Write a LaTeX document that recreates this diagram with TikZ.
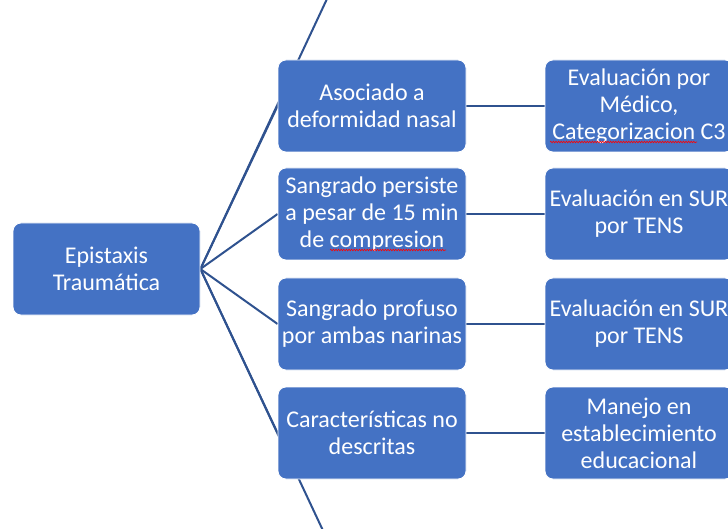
\documentclass[tikz,border=0pt]{standalone}
\usepackage{fontspec}
\setmainfont{Carlito}
\usetikzlibrary{backgrounds,decorations.pathmorphing,calc}
\definecolor{boxblue}{HTML}{4472C4}
\definecolor{lineblue}{HTML}{2F528F}
\tikzset{
  box/.style={draw=white, line width=0.8pt, fill=boxblue, rounded corners=8pt,
    minimum width=188pt, minimum height=92pt, inner sep=2pt, align=center,
    text=white, font=\fontsize{24}{27}\selectfont},
  link/.style={draw=lineblue, line width=2pt},
  spell/.style={draw=red, line width=0.6pt, decorate,
    decoration={snake, amplitude=0.8pt, segment length=2.6pt}}
}
\begin{document}
\begin{tikzpicture}[x=1pt,y=-1pt]
\useasboundingbox (0,0) rectangle (728,529);
\clip (0,0) rectangle (728,529);
% coordinates for off-picture branches
\coordinate (up) at (341,-31);
\coordinate (down) at (341,569);
% nodes
\node[box, minimum width=187pt] (root) at (106.5,269) {Epistaxis\\Traumática};
\node[box] (m1) at (372,106) {Asociado a\\deformidad nasal};
\node[box] (m2) at (372,214) {Sangrado persiste\\a pesar de 15 min\\de compresion};
\node[box] (m3) at (372,324) {Sangrado profuso\\por ambas narinas};
\node[box] (m4) at (372,433) {Características no\\descritas};
\node[box] (r1) at (639,106) {Evaluación por\\Médico,\\Categorizacion C3};
\node[box] (r2) at (639,214) {Evaluación en SUR\\por TENS};
\node[box] (r3) at (639,324) {Evaluación en SUR\\por TENS};
\node[box] (r4) at (639,433) {Manejo en\\establecimiento\\educacional};
% spell-check marks
\draw[spell] ($(m2.center)+(-42,36)$) -- ($(m2.center)+(74,36)$);
\draw[spell] ($(r1.center)+(-89,36)$) -- ($(r1.center)+(58,36)$);
% connectors (behind boxes)
\begin{scope}[on background layer]
\fill[white] (0,0) rectangle (728,529);
\draw[link] (root.east) -- (up);
\draw[link] (root.east) -- (down);
\draw[link] (root.east) -- (m1.west);
\draw[link] (root.east) -- (m2.west);
\draw[link] (root.east) -- (m3.west);
\draw[link] (root.east) -- (m4.west);
\draw[link] (m1.east) -- (r1.west);
\draw[link] (m2.east) -- (r2.west);
\draw[link] (m3.east) -- (r3.west);
\draw[link] (m4.east) -- (r4.west);
\end{scope}
\end{tikzpicture}
\end{document}
